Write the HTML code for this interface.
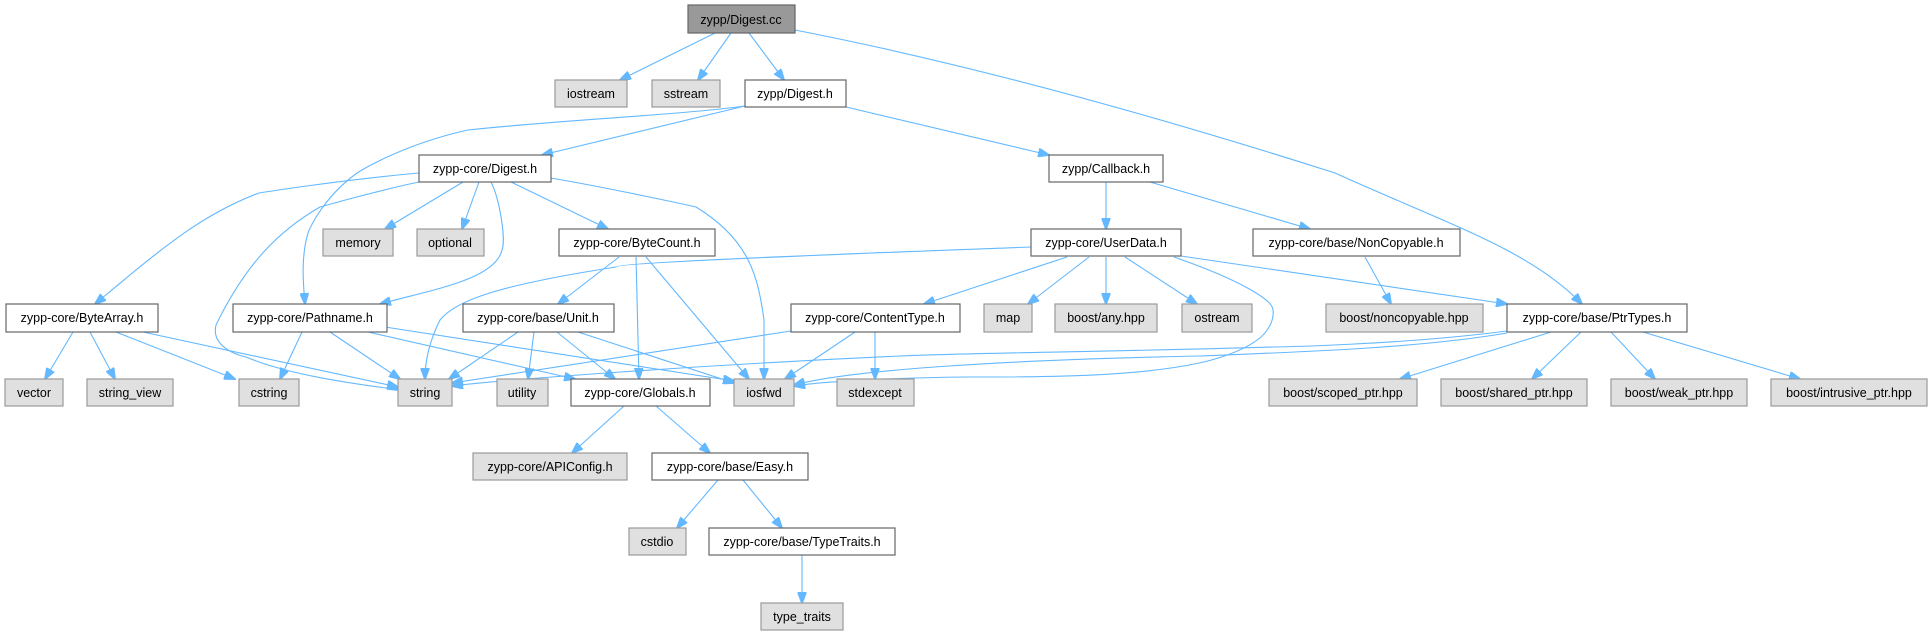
<!DOCTYPE html>
<html><head><meta charset="utf-8"><style>
html,body{margin:0;padding:0;background:#fff;}
svg{display:block;}
text{font-family:"Liberation Sans",sans-serif;font-size:12.5px;fill:#000;text-anchor:middle;}
.w{fill:#fff;stroke:#666;stroke-width:1.2;}
.g{fill:#e0e0e0;stroke:#999;stroke-width:1.2;}
.r{fill:#999;stroke:#666;stroke-width:1.2;}
path{fill:none;stroke:#63b8ff;stroke-width:1.1;}
</style></head><body>
<svg width="1931" height="635" viewBox="0 0 1931 635" xmlns="http://www.w3.org/2000/svg">
<defs><marker id="a" markerWidth="12" markerHeight="9" refX="11" refY="4.5" orient="auto" markerUnits="userSpaceOnUse"><path d="M0,0 L12,4.5 L0,9 z" style="fill:#63b8ff;stroke:#63b8ff"/></marker></defs>
<g marker-end="url(#a)">
<path d="M715,33 L620,80"/>
<path d="M731,33 L698,80"/>
<path d="M749,33 L784,80"/>
<path d="M795,30 C1000,70 1200,130 1335,173 C1450,225 1530,250 1582,304"/>
<path d="M745,106 L542,155"/>
<path d="M745,106 C680,115 560,120 468,130 C400,145 357,173 357,173 C320,200 308,233 308,233 C300,260 304,290 305,304"/>
<path d="M846,107 L1049,155"/>
<path d="M419,173 C340,180 259,193 259,193 C200,215 160,250 95,304"/>
<path d="M419,182 C380,190 320,207 320,207 C280,230 246,263 216,325 C210,350 246,357 246,357 C300,380 394,388 398,390"/>
<path d="M463,182 L385,229"/>
<path d="M479,182 L462,229"/>
<path d="M491,182 C500,200 506,240 502,250 C495,280 430,290 380,304"/>
<path d="M511,182 L608,229"/>
<path d="M551,178 C620,190 696,207 696,207 C750,240 758,277 764,320 L764,379"/>
<path d="M1106,182 L1106,229"/>
<path d="M1150,182 L1310,229"/>
<path d="M619,257 L558,304"/>
<path d="M636,257 L639,379"/>
<path d="M646,257 L749,379"/>
<path d="M1031,247 C900,252 616,262 616,267 C500,285 456,300 440,320 C430,340 425,360 425,379"/>
<path d="M1067,257 L924,304"/>
<path d="M1089,257 L1028,304"/>
<path d="M1106,257 L1106,304"/>
<path d="M1125,257 L1197,304"/>
<path d="M1181,256 L1507,304"/>
<path d="M1174,257 C1240,280 1273,300 1273,310 C1275,325 1261,337 1261,337 C1240,355 1199,363 1199,363 C1130,378 1027,377 966,377 C880,378 820,382 794,386"/>
<path d="M1365,257 L1391,304"/>
<path d="M73,332 L45,379"/>
<path d="M90,332 L115,379"/>
<path d="M116,332 L235,379"/>
<path d="M143,332 L398,387"/>
<path d="M302,332 L280,379"/>
<path d="M330,332 L400,379"/>
<path d="M368,332 L575,379"/>
<path d="M385,327 L734,381"/>
<path d="M518,332 L449,379"/>
<path d="M534,332 L528,379"/>
<path d="M557,332 L615,379"/>
<path d="M578,332 L734,383"/>
<path d="M791,331 L452,383"/>
<path d="M855,332 L785,379"/>
<path d="M875,332 L875,379"/>
<path d="M1507,331 C1400,345 1273,347 1273,347 C1100,352 966,353 900,356 C700,365 500,380 452,386"/>
<path d="M1507,333 C1420,348 1300,352 1200,356 C1000,360 850,370 794,385"/>
<path d="M1551,332 L1400,379"/>
<path d="M1581,332 L1532,379"/>
<path d="M1611,332 L1655,379"/>
<path d="M1643,332 L1800,379"/>
<path d="M624,406 L572,453"/>
<path d="M656,406 L710,453"/>
<path d="M718,480 L677,528"/>
<path d="M743,480 L782,528"/>
<path d="M802,555 L802,603"/>
</g>
<rect class="r" x="688" y="5" width="107" height="28"/><text x="741" y="24">zypp/Digest.cc</text>
<rect class="g" x="555" y="80" width="72" height="27"/><text x="591" y="98">iostream</text>
<rect class="g" x="652" y="80" width="68" height="27"/><text x="686" y="98">sstream</text>
<rect class="w" x="745" y="80" width="101" height="27"/><text x="795" y="98">zypp/Digest.h</text>
<rect class="w" x="419" y="155" width="132" height="27"/><text x="485" y="173">zypp-core/Digest.h</text>
<rect class="w" x="1049" y="155" width="114" height="27"/><text x="1106" y="173">zypp/Callback.h</text>
<rect class="g" x="323" y="229" width="70" height="27"/><text x="358" y="247">memory</text>
<rect class="g" x="417" y="229" width="67" height="27"/><text x="450" y="247">optional</text>
<rect class="w" x="559" y="229" width="156" height="27"/><text x="637" y="247">zypp-core/ByteCount.h</text>
<rect class="w" x="1031" y="229" width="150" height="27"/><text x="1106" y="247">zypp-core/UserData.h</text>
<rect class="w" x="1253" y="229" width="207" height="27"/><text x="1356" y="247">zypp-core/base/NonCopyable.h</text>
<rect class="w" x="6" y="304" width="152" height="28"/><text x="82" y="322">zypp-core/ByteArray.h</text>
<rect class="w" x="233" y="304" width="154" height="28"/><text x="310" y="322">zypp-core/Pathname.h</text>
<rect class="w" x="463" y="304" width="151" height="28"/><text x="538" y="322">zypp-core/base/Unit.h</text>
<rect class="w" x="791" y="304" width="169" height="28"/><text x="875" y="322">zypp-core/ContentType.h</text>
<rect class="g" x="984" y="304" width="48" height="28"/><text x="1008" y="322">map</text>
<rect class="g" x="1055" y="304" width="102" height="28"/><text x="1106" y="322">boost/any.hpp</text>
<rect class="g" x="1182" y="304" width="70" height="28"/><text x="1217" y="322">ostream</text>
<rect class="g" x="1326" y="304" width="157" height="28"/><text x="1404" y="322">boost/noncopyable.hpp</text>
<rect class="w" x="1507" y="304" width="180" height="28"/><text x="1597" y="322">zypp-core/base/PtrTypes.h</text>
<rect class="g" x="5" y="379" width="58" height="27"/><text x="34" y="397">vector</text>
<rect class="g" x="87" y="379" width="86" height="27"/><text x="130" y="397">string_view</text>
<rect class="g" x="239" y="379" width="60" height="27"/><text x="269" y="397">cstring</text>
<rect class="g" x="398" y="379" width="54" height="27"/><text x="425" y="397">string</text>
<rect class="g" x="497" y="379" width="51" height="27"/><text x="522" y="397">utility</text>
<rect class="w" x="571" y="379" width="139" height="27"/><text x="640" y="397">zypp-core/Globals.h</text>
<rect class="g" x="734" y="379" width="60" height="27"/><text x="764" y="397">iosfwd</text>
<rect class="g" x="837" y="379" width="77" height="27"/><text x="875" y="397">stdexcept</text>
<rect class="g" x="1269" y="379" width="148" height="27"/><text x="1343" y="397">boost/scoped_ptr.hpp</text>
<rect class="g" x="1441" y="379" width="146" height="27"/><text x="1514" y="397">boost/shared_ptr.hpp</text>
<rect class="g" x="1611" y="379" width="136" height="27"/><text x="1679" y="397">boost/weak_ptr.hpp</text>
<rect class="g" x="1771" y="379" width="156" height="27"/><text x="1849" y="397">boost/intrusive_ptr.hpp</text>
<rect class="g" x="473" y="453" width="154" height="27"/><text x="550" y="471">zypp-core/APIConfig.h</text>
<rect class="w" x="652" y="453" width="156" height="27"/><text x="730" y="471">zypp-core/base/Easy.h</text>
<rect class="g" x="629" y="528" width="57" height="27"/><text x="657" y="546">cstdio</text>
<rect class="w" x="709" y="528" width="186" height="27"/><text x="802" y="546">zypp-core/base/TypeTraits.h</text>
<rect class="g" x="761" y="603" width="82" height="27"/><text x="802" y="621">type_traits</text>
</svg>
</body></html>
